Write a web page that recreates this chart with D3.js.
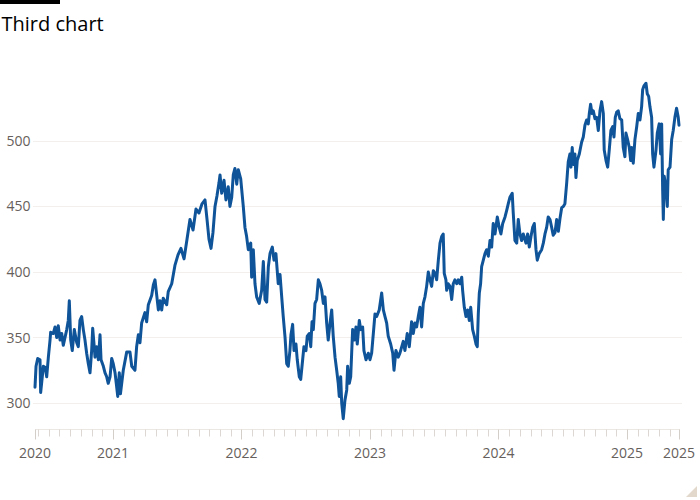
<!DOCTYPE html>
<html>
<head>
<meta charset="utf-8">
<script src="https://cdn.jsdelivr.net/npm/d3@7"></script>
<style>
  html, body { margin: 0; padding: 0; background: #fff; }
  svg { display: block; }
  text { font-family: "Open Sans", sans-serif; }
</style>
</head>
<body>
<svg id="chart" width="700" height="500"></svg>
<script>
const title = "Third chart";
const yTicks = [300, 350, 400, 450, 500];
const yearTicks = [2021, 2022, 2023, 2024, 2025];
const startLabel = "2020";
const endLabel = "2025";

const years = [
2020.393,2020.401,2020.414,2020.432,2020.437,2020.458,2020.473,2020.484,2020.497,2020.510,
2020.515,2020.535,2020.549,2020.562,2020.574,2020.588,2020.601,2020.613,2020.640,2020.652,
2020.660,2020.671,2020.683,2020.699,2020.718,2020.730,2020.743,2020.756,2020.769,2020.782,
2020.795,2020.808,2020.821,2020.834,2020.842,2020.854,2020.860,2020.873,2020.886,2020.899,
2020.907,2020.925,2020.938,2020.951,2020.963,2020.977,2020.990,2021.002,2021.016,2021.029,
2021.037,2021.049,2021.058,2021.080,2021.107,2021.132,2021.146,2021.171,2021.184,2021.197,
2021.210,2021.223,2021.249,2021.262,2021.275,2021.301,2021.314,2021.327,2021.353,2021.366,
2021.379,2021.391,2021.418,2021.430,2021.457,2021.482,2021.506,2021.529,2021.553,2021.576,
2021.599,2021.623,2021.646,2021.669,2021.693,2021.716,2021.732,2021.747,2021.763,2021.778,
2021.794,2021.809,2021.825,2021.833,2021.846,2021.864,2021.879,2021.897,2021.910,2021.924,
2021.936,2021.949,2021.963,2021.975,2021.994,2022.014,2022.027,2022.040,2022.053,2022.072,
2022.079,2022.092,2022.105,2022.118,2022.138,2022.157,2022.170,2022.183,2022.196,2022.209,
2022.222,2022.240,2022.253,2022.268,2022.286,2022.300,2022.313,2022.325,2022.339,2022.352,
2022.364,2022.377,2022.385,2022.398,2022.409,2022.424,2022.434,2022.450,2022.461,2022.476,
2022.486,2022.502,2022.512,2022.528,2022.539,2022.549,2022.559,2022.572,2022.585,2022.598,
2022.611,2022.624,2022.637,2022.650,2022.663,2022.675,2022.689,2022.702,2022.714,2022.728,
2022.741,2022.753,2022.761,2022.772,2022.780,2022.792,2022.805,2022.819,2022.826,2022.839,
2022.850,2022.865,2022.878,2022.891,2022.901,2022.917,2022.928,2022.943,2022.953,2022.969,
2022.987,2023.000,2023.013,2023.026,2023.039,2023.052,2023.072,2023.091,2023.104,2023.117,
2023.130,2023.142,2023.161,2023.177,2023.187,2023.202,2023.220,2023.233,2023.259,2023.272,
2023.290,2023.306,2023.324,2023.337,2023.350,2023.363,2023.376,2023.389,2023.402,2023.415,
2023.428,2023.441,2023.454,2023.467,2023.480,2023.493,2023.506,2023.519,2023.532,2023.545,
2023.558,2023.570,2023.578,2023.591,2023.597,2023.609,2023.623,2023.636,2023.648,2023.661,
2023.675,2023.687,2023.700,2023.714,2023.721,2023.734,2023.747,2023.760,2023.773,2023.784,
2023.799,2023.812,2023.825,2023.835,2023.843,2023.851,2023.861,2023.869,2023.882,2023.895,
2023.908,2023.921,2023.934,2023.947,2023.959,2023.973,2023.991,2024.006,2024.019,2024.033,
2024.051,2024.064,2024.076,2024.089,2024.107,2024.115,2024.128,2024.142,2024.154,2024.167,
2024.180,2024.193,2024.214,2024.227,2024.240,2024.253,2024.266,2024.279,2024.292,2024.302,
2024.317,2024.336,2024.349,2024.362,2024.375,2024.387,2024.401,2024.414,2024.426,2024.440,
2024.453,2024.466,2024.479,2024.492,2024.505,2024.517,2024.531,2024.543,2024.556,2024.564,
2024.574,2024.582,2024.595,2024.603,2024.613,2024.629,2024.647,2024.660,2024.673,2024.686,
2024.699,2024.707,2024.717,2024.728,2024.738,2024.751,2024.764,2024.777,2024.790,2024.803,
2024.816,2024.823,2024.837,2024.850,2024.862,2024.875,2024.889,2024.899,2024.909,2024.920,
2024.932,2024.945,2024.959,2024.971,2024.984,2024.992,2025.005,2025.018,2025.029,2025.037,
2025.049,2025.062,2025.076,2025.088,2025.101,2025.114,2025.122,2025.132,2025.148,2025.158,
2025.169,2025.179,2025.192,2025.200,2025.210,2025.226,2025.236,2025.251,2025.262,2025.270,
2025.278,2025.283,2025.290,2025.303,2025.314,2025.321,2025.335,2025.348,2025.360,2025.373,
2025.386,2025.399,2025.405
];

const values = [
312,328,334,333,308,328,327,320,335,348,
354,353,358,350,359,348,353,344,356,363,
378,348,340,356,346,343,363,366,356,348,
338,330,323,340,357,343,335,343,333,352,
333,328,323,320,315,320,334,330,323,312,
305,323,307,325,339,339,328,325,343,352,
346,361,369,362,375,382,390,394,371,378,
371,380,375,385,391,405,413,418,410,425,
440,432,448,445,452,455,440,425,418,430,
450,458,468,474,460,470,455,465,450,457,
474,479,467,478,471,450,434,427,417,422,
396,417,391,381,376,386,408,379,377,404,
414,419,409,414,391,398,381,366,350,330,
328,340,352,360,340,345,333,320,318,333,
343,340,351,353,343,362,356,376,379,394,
391,386,376,381,361,348,361,371,351,335,
325,315,305,320,300,288,302,310,328,315,
320,356,348,358,345,363,356,358,340,333,
338,333,338,353,368,366,371,384,371,366,
361,351,345,338,325,340,335,338,347,340,
353,343,362,353,361,358,366,373,358,376,
381,389,400,394,389,401,399,394,409,422,
427,429,399,394,386,391,389,379,391,394,
391,394,391,396,386,373,366,371,363,373,
356,351,345,343,368,384,391,404,409,414,
417,412,424,419,437,429,442,434,429,437,
442,447,452,457,460,445,424,422,440,429,
424,429,422,429,419,427,434,437,417,409,
414,417,422,429,434,442,440,434,428,430,
440,431,441,449,450,452,468,484,490,480,
495,482,490,472,485,490,499,503,512,516,
513,521,528,521,523,517,518,508,523,530,
521,493,485,480,493,508,511,503,518,522,
523,517,516,495,488,506,501,495,485,495,
483,501,511,521,516,526,539,542,544,536,
534,526,518,490,480,493,506,513,490,513,
462,440,473,465,450,478,480,501,508,518,
525,518,512
];

const data = years.map((t, i) => ({ t, v: values[i] }));
const svg = d3.select("#chart");

const x0 = years[0], x1 = years[years.length - 1];
const x = d3.scaleLinear().domain([x0, x1]).range([35, 679]);
const y = d3.scaleLinear().domain([280, 560]).range([429.2, 62.3]);

// top bar and title
svg.append("rect").attr("x", 0).attr("y", 0).attr("width", 60).attr("height", 4).attr("fill", "#000");
svg.append("text").attr("x", 1.5).attr("y", 31).attr("font-size", 20).attr("fill", "#000").text(title);

// gridlines
svg.append("g").selectAll("line").data(yTicks).join("line")
  .attr("x1", 33).attr("x2", 682)
  .attr("y1", d => Math.round(y(d)) + 0.5).attr("y2", d => Math.round(y(d)) + 0.5)
  .attr("stroke", "#f2efec").attr("stroke-width", 1);

// y labels
svg.append("g").selectAll("text").data(yTicks).join("text")
  .attr("x", 30.5).attr("y", d => y(d)).attr("dy", "0.36em")
  .attr("text-anchor", "end").attr("font-size", 14).attr("fill", "#66605c")
  .text(d => d);

// x axis baseline
const axisY = 429.5;
svg.append("line").attr("x1", 35).attr("x2", 680).attr("y1", axisY).attr("y2", axisY)
  .attr("stroke", "#ebe7e3").attr("stroke-width", 1);

// minor monthly ticks
const minor = [];
for (let yr = 2020; yr <= 2025; yr++) for (let m = 0; m < 12; m++) {
  const t = yr + m / 12;
  if (t > x0 + 0.01 && t < x1 - 0.01 && m !== 0) minor.push(t);
}
svg.append("g").selectAll("line").data(minor).join("line")
  .attr("x1", d => Math.round(x(d)) + 0.5).attr("x2", d => Math.round(x(d)) + 0.5)
  .attr("y1", axisY).attr("y2", axisY + 7)
  .attr("stroke", "#dcd7d2").attr("stroke-width", 1);

// major ticks
const majors = [x0].concat(yearTicks).concat([x1]);
const majorLabels = [startLabel].concat(yearTicks.map(String)).concat([endLabel]);
svg.append("g").selectAll("line").data(majors).join("line")
  .attr("x1", d => Math.round(x(d)) + 0.5).attr("x2", d => Math.round(x(d)) + 0.5)
  .attr("y1", axisY).attr("y2", axisY + 10)
  .attr("stroke", "#d4cec8").attr("stroke-width", 1);
svg.append("g").selectAll("text").data(majors).join("text")
  .attr("x", d => x(d)).attr("y", 458)
  .attr("text-anchor", "middle").attr("font-size", 14).attr("fill", "#66605c")
  .text((d, i) => majorLabels[i]);

// line
const line = d3.line().x(d => x(d.t)).y(d => y(d.v));
svg.append("path").datum(data).attr("d", line)
  .attr("fill", "none").attr("stroke", "#0f5499").attr("stroke-width", 3)
  .attr("stroke-linejoin", "round").attr("stroke-linecap", "round");

// corner mark
svg.append("path").attr("d", "M686,497 L697,497 L697,486 Z").attr("fill", "#e3d8cc");
</script>
</body>
</html>
